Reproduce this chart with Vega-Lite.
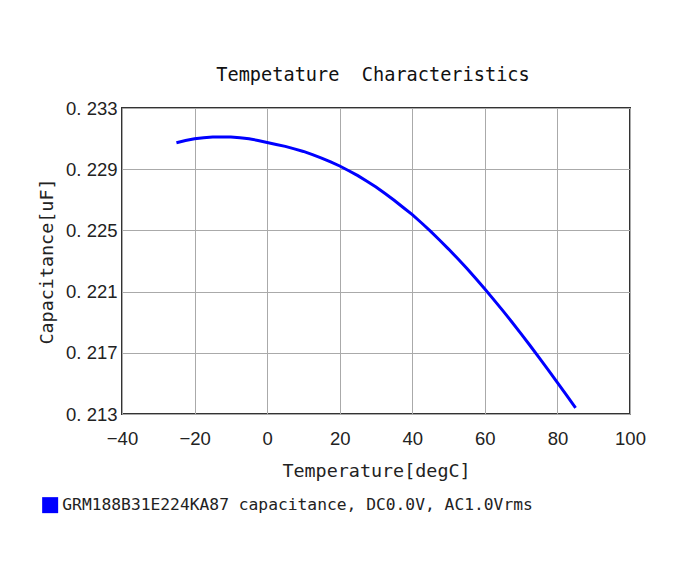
{
  "$schema": "https://vega.github.io/schema/vega-lite/v6.json",
  "autosize": {"type": "none"},
  "padding": {"left": 122, "top": 108, "right": 61, "bottom": 148},
  "width": 508,
  "height": 306,
  "background": "white",
  "title": {
    "text": "Tempetature\u00a0 Characteristics",
    "font": "DejaVu Sans Mono",
    "fontSize": 18.6,
    "fontWeight": "normal",
    "color": "#111",
    "offset": 14,
    "dx": -3
  },
  "data": {
    "values": [
      {"s": "GRM188B31E224KA87 capacitance, DC0.0V, AC1.0Vrms", "t": -25, "c": 0.23073},
      {"s": "GRM188B31E224KA87 capacitance, DC0.0V, AC1.0Vrms", "t": -22.5, "c": 0.23088},
      {"s": "GRM188B31E224KA87 capacitance, DC0.0V, AC1.0Vrms", "t": -20, "c": 0.23099},
      {"s": "GRM188B31E224KA87 capacitance, DC0.0V, AC1.0Vrms", "t": -17.5, "c": 0.23106},
      {"s": "GRM188B31E224KA87 capacitance, DC0.0V, AC1.0Vrms", "t": -15, "c": 0.23110},
      {"s": "GRM188B31E224KA87 capacitance, DC0.0V, AC1.0Vrms", "t": -12.5, "c": 0.23111},
      {"s": "GRM188B31E224KA87 capacitance, DC0.0V, AC1.0Vrms", "t": -10, "c": 0.23110},
      {"s": "GRM188B31E224KA87 capacitance, DC0.0V, AC1.0Vrms", "t": -7.5, "c": 0.23106},
      {"s": "GRM188B31E224KA87 capacitance, DC0.0V, AC1.0Vrms", "t": -5, "c": 0.23099},
      {"s": "GRM188B31E224KA87 capacitance, DC0.0V, AC1.0Vrms", "t": -2.5, "c": 0.23088},
      {"s": "GRM188B31E224KA87 capacitance, DC0.0V, AC1.0Vrms", "t": 0, "c": 0.23075},
      {"s": "GRM188B31E224KA87 capacitance, DC0.0V, AC1.0Vrms", "t": 2.5, "c": 0.23062},
      {"s": "GRM188B31E224KA87 capacitance, DC0.0V, AC1.0Vrms", "t": 5, "c": 0.23049},
      {"s": "GRM188B31E224KA87 capacitance, DC0.0V, AC1.0Vrms", "t": 7.5, "c": 0.23033},
      {"s": "GRM188B31E224KA87 capacitance, DC0.0V, AC1.0Vrms", "t": 10, "c": 0.23016},
      {"s": "GRM188B31E224KA87 capacitance, DC0.0V, AC1.0Vrms", "t": 12.5, "c": 0.22995},
      {"s": "GRM188B31E224KA87 capacitance, DC0.0V, AC1.0Vrms", "t": 15, "c": 0.22973},
      {"s": "GRM188B31E224KA87 capacitance, DC0.0V, AC1.0Vrms", "t": 17.5, "c": 0.22948},
      {"s": "GRM188B31E224KA87 capacitance, DC0.0V, AC1.0Vrms", "t": 20, "c": 0.22921},
      {"s": "GRM188B31E224KA87 capacitance, DC0.0V, AC1.0Vrms", "t": 22.5, "c": 0.22890},
      {"s": "GRM188B31E224KA87 capacitance, DC0.0V, AC1.0Vrms", "t": 25, "c": 0.22858},
      {"s": "GRM188B31E224KA87 capacitance, DC0.0V, AC1.0Vrms", "t": 27.5, "c": 0.22821},
      {"s": "GRM188B31E224KA87 capacitance, DC0.0V, AC1.0Vrms", "t": 30, "c": 0.22783},
      {"s": "GRM188B31E224KA87 capacitance, DC0.0V, AC1.0Vrms", "t": 32.5, "c": 0.22741},
      {"s": "GRM188B31E224KA87 capacitance, DC0.0V, AC1.0Vrms", "t": 35, "c": 0.22697},
      {"s": "GRM188B31E224KA87 capacitance, DC0.0V, AC1.0Vrms", "t": 37.5, "c": 0.22650},
      {"s": "GRM188B31E224KA87 capacitance, DC0.0V, AC1.0Vrms", "t": 40, "c": 0.22603},
      {"s": "GRM188B31E224KA87 capacitance, DC0.0V, AC1.0Vrms", "t": 42.5, "c": 0.22550},
      {"s": "GRM188B31E224KA87 capacitance, DC0.0V, AC1.0Vrms", "t": 45, "c": 0.22495},
      {"s": "GRM188B31E224KA87 capacitance, DC0.0V, AC1.0Vrms", "t": 47.5, "c": 0.22437},
      {"s": "GRM188B31E224KA87 capacitance, DC0.0V, AC1.0Vrms", "t": 50, "c": 0.22378},
      {"s": "GRM188B31E224KA87 capacitance, DC0.0V, AC1.0Vrms", "t": 52.5, "c": 0.22316},
      {"s": "GRM188B31E224KA87 capacitance, DC0.0V, AC1.0Vrms", "t": 55, "c": 0.22252},
      {"s": "GRM188B31E224KA87 capacitance, DC0.0V, AC1.0Vrms", "t": 57.5, "c": 0.22185},
      {"s": "GRM188B31E224KA87 capacitance, DC0.0V, AC1.0Vrms", "t": 60, "c": 0.22117},
      {"s": "GRM188B31E224KA87 capacitance, DC0.0V, AC1.0Vrms", "t": 62.5, "c": 0.22046},
      {"s": "GRM188B31E224KA87 capacitance, DC0.0V, AC1.0Vrms", "t": 65, "c": 0.21974},
      {"s": "GRM188B31E224KA87 capacitance, DC0.0V, AC1.0Vrms", "t": 67.5, "c": 0.21900},
      {"s": "GRM188B31E224KA87 capacitance, DC0.0V, AC1.0Vrms", "t": 70, "c": 0.21824},
      {"s": "GRM188B31E224KA87 capacitance, DC0.0V, AC1.0Vrms", "t": 72.5, "c": 0.21746},
      {"s": "GRM188B31E224KA87 capacitance, DC0.0V, AC1.0Vrms", "t": 75, "c": 0.21667},
      {"s": "GRM188B31E224KA87 capacitance, DC0.0V, AC1.0Vrms", "t": 77.5, "c": 0.21587},
      {"s": "GRM188B31E224KA87 capacitance, DC0.0V, AC1.0Vrms", "t": 80, "c": 0.21505},
      {"s": "GRM188B31E224KA87 capacitance, DC0.0V, AC1.0Vrms", "t": 82.5, "c": 0.21423},
      {"s": "GRM188B31E224KA87 capacitance, DC0.0V, AC1.0Vrms", "t": 85, "c": 0.21340}
    ]
  },
  "mark": {"type": "line", "strokeWidth": 3, "clip": true},
  "encoding": {
    "x": {
      "field": "t",
      "type": "quantitative",
      "title": "Temperature[degC]",
      "scale": {"domain": [-40, 100], "nice": false, "zero": false},
      "axis": {"values": [-40, -20, 0, 20, 40, 60, 80, 100], "format": "d"}
    },
    "y": {
      "field": "c",
      "type": "quantitative",
      "title": "Capacitance[uF]",
      "scale": {"domain": [0.213, 0.233], "nice": false, "zero": false},
      "axis": {
        "values": [0.213, 0.217, 0.221, 0.225, 0.229, 0.233],
        "format": ".3f",
        "labelExpr": "replace(datum.label, '.', '. ')"
      }
    },
    "color": {
      "field": "s",
      "type": "nominal",
      "scale": {"range": ["#0000ff"]},
      "legend": {
        "title": null,
        "orient": "none",
        "legendX": -80,
        "legendY": 389,
        "symbolType": "square",
        "symbolSize": 256,
        "symbolFillColor": "#0000ff",
        "symbolStrokeWidth": 0,
        "symbolOffset": 0,
        "labelFont": "DejaVu Sans Mono",
        "labelFontSize": 16.3,
        "labelColor": "#222",
        "labelOffset": 4,
        "labelLimit": 620
      }
    }
  },
  "config": {
    "view": {"stroke": "#333", "strokeWidth": 2},
    "axis": {
      "domain": false,
      "ticks": false,
      "grid": true,
      "gridColor": "#aaaaaa",
      "gridWidth": 1,
      "gridOpacity": 1,
      "labelFont": "Liberation Sans",
      "labelFontSize": 18.5,
      "labelColor": "#222",
      "titleFont": "DejaVu Sans Mono",
      "titleFontSize": 18.4,
      "titleFontWeight": "normal",
      "titleColor": "#222"
    },
    "axisX": {"labelPadding": 15, "titlePadding": 14, "labelFlush": false},
    "axisY": {"labelPadding": 5, "titlePadding": 9, "labelFlush": false}
  }
}
